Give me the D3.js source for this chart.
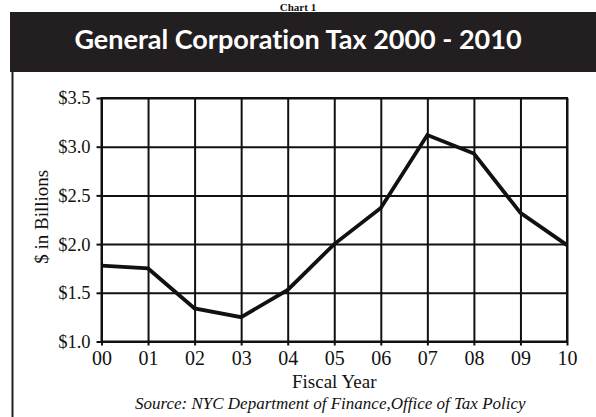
<!DOCTYPE html>
<html>
<head>
<meta charset="utf-8">
<script src="https://cdn.jsdelivr.net/npm/d3@7"></script>
<style>
  html, body { margin: 0; padding: 0; background: #fff; }
  svg { display: block; }
  text { font-variant-ligatures: none; }
</style>
</head>
<body>
<svg id="chart" width="596" height="417"></svg>
<script>
// Fiscal years (two-digit labels) and General Corporation Tax collections, $ billions
const years = ["00", "01", "02", "03", "04", "05", "06", "07", "08", "09", "10"];
const revenue = [1.78, 1.75, 1.34, 1.25, 1.53, 2.00, 2.37, 3.12, 2.93, 2.32, 1.99];
const yTicks = [1.0, 1.5, 2.0, 2.5, 3.0, 3.5];

const svg = d3.select("#chart");
const W = 596, H = 417;
const plot = { left: 101.5, right: 567, top: 98, bottom: 341.5 };
const serif = "'Liberation Serif', 'Times New Roman', serif";
const ink = "#111";

// Heading above the banner
svg.append("text")
  .attr("x", 298).attr("y", 10.5)
  .attr("text-anchor", "middle")
  .attr("font-family", serif).attr("font-weight", "bold")
  .attr("font-size", 11).attr("fill", ink)
  .text("Chart 1");

// Dark title banner
svg.append("rect")
  .attr("x", 10).attr("y", 12).attr("width", W - 10).attr("height", 60)
  .attr("fill", "#231f20");
svg.append("text")
  .attr("x", 298).attr("y", 49)
  .attr("text-anchor", "middle")
  .attr("font-family", "Lato, 'Open Sans', sans-serif").attr("font-weight", "bold")
  .attr("font-size", 27).attr("fill", "#fff")
  .text("General Corporation Tax 2000 - 2010");

// Frame line down the left side of the panel
svg.append("line")
  .attr("x1", 12.5).attr("x2", 12.5).attr("y1", 72).attr("y2", H)
  .attr("stroke", "#231f20").attr("stroke-width", 2);

// Scales
const x = d3.scalePoint().domain(years).range([plot.left, plot.right]);
const y = d3.scaleLinear().domain([1.0, 3.5]).range([plot.bottom, plot.top]);
const pw = plot.right - plot.left, ph = plot.bottom - plot.top;

// Grid lines (no labels)
const gridY = svg.append("g")
  .attr("transform", `translate(${plot.left},0)`)
  .call(d3.axisLeft(y).tickValues(yTicks).tickSize(-pw).tickFormat(""));
const gridX = svg.append("g")
  .attr("transform", `translate(0,${plot.top})`)
  .call(d3.axisTop(x).tickSize(-ph).tickFormat(""));
[gridY, gridX].forEach(g => {
  g.select(".domain").remove();
  g.selectAll(".tick line").attr("stroke", ink).attr("stroke-width", 2);
});

// Plot border
svg.append("rect")
  .attr("x", plot.left).attr("y", plot.top).attr("width", pw).attr("height", ph)
  .attr("fill", "none").attr("stroke", ink).attr("stroke-width", 2);

// Labelled axes with short outward ticks
const yAxis = svg.append("g")
  .attr("transform", `translate(${plot.left},0)`)
  .call(d3.axisLeft(y).tickValues(yTicks).tickSize(5).tickPadding(6)
    .tickFormat(d => "$" + d.toFixed(1)));
const xAxis = svg.append("g")
  .attr("transform", `translate(0,${plot.bottom})`)
  .call(d3.axisBottom(x).tickSize(4).tickPadding(5));
[yAxis, xAxis].forEach(g => {
  g.select(".domain").remove();
  g.selectAll(".tick line").attr("stroke", ink).attr("stroke-width", 2);
  g.selectAll(".tick text")
    .attr("font-family", serif).attr("fill", ink);
});
yAxis.selectAll(".tick text").attr("font-size", 18.5);
xAxis.selectAll(".tick text").attr("font-size", 20);

// Revenue line
svg.append("path")
  .datum(years.map((yr, i) => [yr, revenue[i]]))
  .attr("fill", "none").attr("stroke", ink)
  .attr("stroke-width", 3.8).attr("stroke-linejoin", "miter")
  .attr("d", d3.line().x(d => x(d[0])).y(d => y(d[1])));

// Axis titles and source note
svg.append("text")
  .attr("transform", `translate(48,${(plot.top + plot.bottom) / 2 - 3}) rotate(-90)`)
  .attr("text-anchor", "middle")
  .attr("font-family", serif).attr("font-size", 19).attr("fill", ink)
  .text("$ in Billions");
svg.append("text")
  .attr("x", (plot.left + plot.right) / 2).attr("y", 388)
  .attr("text-anchor", "middle")
  .attr("font-family", serif).attr("font-size", 19).attr("fill", ink)
  .text("Fiscal Year");
svg.append("text")
  .attr("x", (plot.left + plot.right) / 2 - 4).attr("y", 409)
  .attr("text-anchor", "middle")
  .attr("font-family", serif).attr("font-style", "italic")
  .attr("font-size", 17).attr("fill", ink)
  .text("Source: NYC Department of Finance,Office of Tax Policy");
</script>
</body>
</html>
